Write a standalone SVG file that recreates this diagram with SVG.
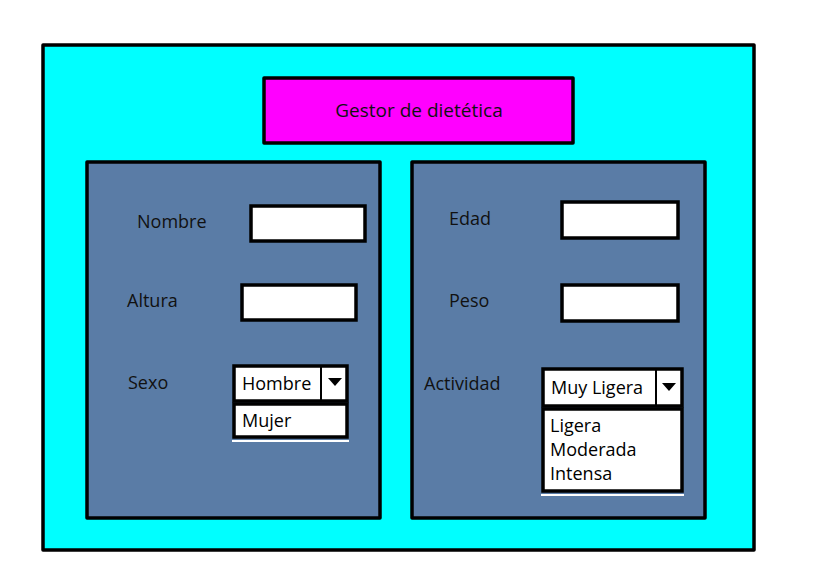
<svg xmlns="http://www.w3.org/2000/svg" width="832" height="573" viewBox="0 0 832 573">
<style>
.box{stroke:#000;stroke-width:3.5;stroke-linejoin:round}
.lbl{font-family:"Open Sans","Liberation Sans",sans-serif;font-size:18px;fill:#111}
.opt{font-family:"Open Sans","Liberation Sans",sans-serif;font-size:18px;fill:#000}
.in{fill:#fff;stroke:#000;stroke-width:3.5}
</style>
<rect width="832" height="573" fill="#fff"/>
<g id="window"><rect class="box" x="43" y="45" width="711" height="505" fill="#00ffff"/></g>
<g id="title"><rect class="box" x="264" y="78" width="309" height="65" fill="#ff00ff"/>
<text class="lbl" x="419" y="117" text-anchor="middle" style="font-size:19px">Gestor de dietética</text></g>
<g id="panel-left"><rect class="box" x="87" y="162" width="293" height="356" fill="#5a7ca6"/></g>
<g id="panel-right"><rect class="box" x="412" y="162" width="293" height="356" fill="#5a7ca6"/></g>
<g id="nombre"><text class="lbl" x="137" y="228">Nombre</text><rect class="in" x="251" y="206" width="114" height="35"/></g>
<g id="altura"><text class="lbl" x="127" y="307">Altura</text><rect class="in" x="242" y="285" width="114" height="35"/></g>
<g id="sexo"><text class="lbl" x="128" y="389">Sexo</text>
<rect class="in" x="234" y="366" width="113" height="35"/><line x1="321" y1="366" x2="321" y2="401" stroke="#000" stroke-width="2"/>
<polygon points="328,378 342,378 335,386" fill="#000"/>
<text class="opt" x="242" y="390">Hombre</text>
<rect class="in" x="234" y="404" width="113" height="33"/><line x1="232" y1="441" x2="349" y2="441" stroke="#fff" stroke-width="2"/>
<text class="opt" x="242" y="427">Mujer</text></g>
<g id="edad"><text class="lbl" x="449" y="225">Edad</text><rect class="in" x="562" y="202" width="116" height="36"/></g>
<g id="peso"><text class="lbl" x="449" y="307">Peso</text><rect class="in" x="562" y="285" width="116" height="36"/></g>
<g id="actividad"><text class="lbl" x="424" y="390">Actividad</text>
<rect class="in" x="543" y="369" width="139" height="37"/><line x1="656" y1="369" x2="656" y2="406" stroke="#000" stroke-width="2"/>
<polygon points="662,383 676,383 669,391" fill="#000"/>
<text class="opt" x="551" y="394">Muy Ligera</text>
<rect class="in" x="543" y="409" width="139" height="82"/><line x1="541" y1="495" x2="684" y2="495" stroke="#fff" stroke-width="2"/>
<text class="opt" x="550" y="432">Ligera</text>
<text class="opt" x="550" y="456">Moderada</text>
<text class="opt" x="550" y="480">Intensa</text></g>
</svg>
